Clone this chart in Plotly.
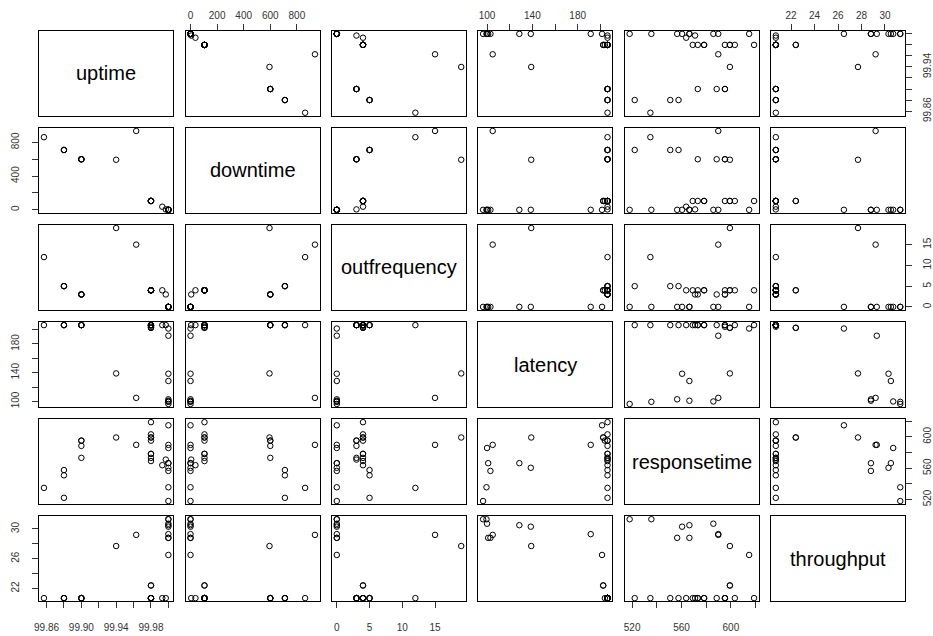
import plotly.graph_objects as go

# Service-level measurements, one entry per observation
uptime = [100.0, 100.0, 100.0, 100.0, 100.0, 100.0, 100.0, 100.0, 100.0,
          99.997, 99.993,
          99.98, 99.98, 99.98, 99.98, 99.98, 99.98, 99.98, 99.98, 99.98,
          99.963, 99.94,
          99.90, 99.90, 99.90, 99.90,
          99.88, 99.88, 99.88, 99.857]
downtime = [0, 0, 0, 0, 0, 0, 0, 0, 0,
            5, 37,
            105, 105, 105, 105, 105, 105, 105, 105, 105,
            936, 594,
            600, 600, 600, 600,
            710, 710, 710, 862]
outfrequency = [0, 0, 0, 0, 0, 0, 0, 0, 0,
                3, 4,
                4, 4, 4, 4, 4, 4, 4, 4, 4,
                15, 19,
                3, 3, 3, 3,
                5, 5, 5, 12]
latency = [96.5, 99.5, 103.0, 138.6, 128.5, 101.0, 100.0, 191.5, 201.5,
           206.3, 206.3,
           206.3, 206.3, 206.3, 206.3, 204.0, 202.5, 202.5, 206.3, 206.3,
           105.0, 139.0,
           206.3, 206.3, 206.3, 206.3,
           206.3, 206.3, 206.3, 206.3]
responsetime = [518.0, 535.6, 556.5, 560.5, 566.4, 566.4, 585.8, 589.8, 614.8,
                571.0, 563.8,
                569.1, 573.2, 578.3, 578.3, 595.2, 599.2, 599.2, 603.2, 618.8,
                589.8, 599.2,
                573.2, 588.5, 595.2, 595.2,
                522.1, 550.9, 557.6, 534.8]
throughput = [31.3, 31.3, 28.8, 30.3, 30.5, 28.8, 30.7, 29.3, 26.5,
              20.7, 20.7,
              20.7, 20.7, 20.7, 20.7, 20.7, 22.4, 22.4, 20.7, 20.7,
              29.2, 27.7,
              20.7, 20.7, 20.7, 20.7,
              20.7, 20.7, 20.7, 20.7]

names = ["uptime", "downtime", "outfrequency", "latency", "responsetime", "throughput"]
data = [uptime, downtime, outfrequency, latency, responsetime, throughput]

# tick positions per variable, and the labels shown on each outer side
tick_vals = [
    [99.86, 99.88, 99.90, 99.92, 99.94, 99.96, 99.98, 100.00],
    [0, 200, 400, 600, 800],
    [0, 5, 10, 15],
    [100, 120, 140, 160, 180, 200],
    [520, 540, 560, 580, 600, 620],
    [22, 24, 26, 28, 30],
]
horiz_labels = [
    {99.86: "99.86", 99.90: "99.90", 99.94: "99.94", 99.98: "99.98"},
    {0: "0", 200: "200", 400: "400", 600: "600", 800: "800"},
    {0: "0", 5: "5", 10: "10", 15: "15"},
    {100: "100", 140: "140", 180: "180"},
    {520: "520", 560: "560", 600: "600"},
    {22: "22", 24: "24", 26: "26", 28: "28", 30: "30"},
]
vert_labels = [
    {99.86: "99.86", 99.94: "99.94"},
    {0: "0", 400: "400", 800: "800"},
    {0: "0", 5: "5", 10: "10", 15: "15"},
    {100: "100", 140: "140", 180: "180"},
    {520: "520", 560: "560", 600: "600"},
    {22: "22", 26: "26", 30: "30"},
]

W, H = 933, 636
col_left = [34.3, 182.3, 330.0, 477.7, 625.7, 773.3]
row_top = [31.0, 129.0, 227.0, 325.0, 423.0, 521.0]
pw, ph = 135.7, 86.0

def padded(v):
    lo, hi = min(v), max(v)
    d = (hi - lo) * 0.04
    return [lo - d, hi + d]

ranges = [padded(v) for v in data]

tick_font = dict(family="Liberation Sans, Arial, sans-serif", size=10, color="#333")

fig = go.Figure()
layout = dict(width=W, height=H, margin=dict(l=0, r=0, t=0, b=0),
              paper_bgcolor="white", plot_bgcolor="white", showlegend=False)
annotations = []

def tick_style(vals, labels, side, angle, standoff):
    return dict(side=side, ticks="outside", ticklen=6, tickcolor="#333",
                tickwidth=1, tickvals=vals,
                ticktext=[labels.get(v, "") for v in vals],
                showticklabels=True, tickfont=tick_font, tickangle=angle,
                ticklabelstandoff=standoff)

n = len(names)
for r in range(n):
    for c in range(n):
        k = r * n + c + 1
        xs = "" if k == 1 else str(k)
        xa, ya = "x" + xs, "y" + xs
        xdom = [col_left[c] / W, (col_left[c] + pw) / W]
        ydom = [1 - (row_top[r] + ph) / H, 1 - row_top[r] / H]

        xaxis = dict(domain=xdom, anchor=ya, range=ranges[c], showgrid=False,
                     zeroline=False, showline=True, mirror=True, linecolor="black",
                     linewidth=1, ticks="", showticklabels=False, fixedrange=True)
        yaxis = dict(domain=ydom, anchor=xa, range=ranges[r], showgrid=False,
                     zeroline=False, showline=True, mirror=True, linecolor="black",
                     linewidth=1, ticks="", showticklabels=False, fixedrange=True)

        # outer axes alternate sides, as in a scatterplot matrix
        if r == 0 and c % 2 == 1:
            xaxis.update(tick_style(tick_vals[c], horiz_labels[c], "top", 0, 1))
        if r == n - 1 and c % 2 == 0:
            xaxis.update(tick_style(tick_vals[c], horiz_labels[c], "bottom", 0, 11))
        if c == 0 and r % 2 == 1:
            yaxis.update(tick_style(tick_vals[r], vert_labels[r], "left", -90, 9))
        if c == n - 1 and r % 2 == 0:
            yaxis.update(tick_style(tick_vals[r], vert_labels[r], "right", -90, 7))

        layout["xaxis" + xs] = xaxis
        layout["yaxis" + xs] = yaxis

        if r == c:
            fig.add_trace(go.Scatter(x=[], y=[], xaxis=xa, yaxis=ya,
                                     mode="markers", hoverinfo="skip"))
            annotations.append(dict(
                x=(xdom[0] + xdom[1]) / 2, y=(ydom[0] + ydom[1]) / 2,
                xref="paper", yref="paper", xanchor="center", yanchor="middle",
                text=names[r], showarrow=False,
                font=dict(family="Liberation Sans, Arial, sans-serif", size=20,
                          color="black")))
        else:
            fig.add_trace(go.Scatter(
                x=data[c], y=data[r], xaxis=xa, yaxis=ya, mode="markers",
                marker=dict(symbol="circle-open", size=5.5, color="black",
                            line=dict(width=1, color="black")),
                hoverinfo="skip", cliponaxis=False))

layout["annotations"] = annotations
fig.update_layout(**layout)
fig.write_html("out.html")
